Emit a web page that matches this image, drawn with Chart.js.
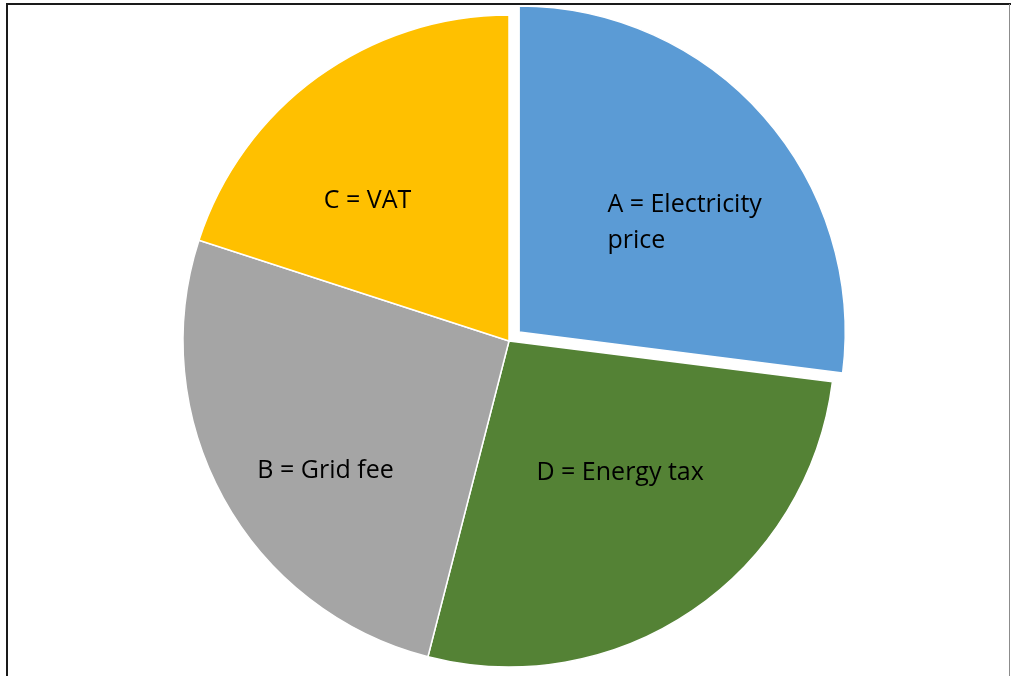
<!DOCTYPE html>
<html>
<head>
<meta charset="utf-8">
<script src="https://cdn.jsdelivr.net/npm/chart.js@4"></script>
<style>
  html, body { margin: 0; padding: 0; background: #ffffff; }
  #wrap { width: 1011px; height: 676px; position: relative; }
</style>
</head>
<body>
<div id="wrap"><canvas id="pie-chart" width="1011" height="676"></canvas></div>
<script>
const ctx = document.getElementById('pie-chart');

// slices, clockwise from 12 o'clock
const categories = [['A = Electricity', 'price'], 'D = Energy tax', 'B = Grid fee', 'C = VAT'];
const shares = [27, 27, 26, 20];

const COLORS = ['#5B9BD5', '#548235', '#A5A5A5', '#FFC000'];
// where each label sits: [fraction along the arc, fraction of radius]
const LABEL_SPOTS = [[0.582, 0.608], [0.44, 0.53], [0.43, 0.69], [0.37, 0.61]];
const FONT = '25px "Open Sans"';

// same shift that ArcElement.draw applies for an exploded slice
function arcShift(arc) {
    const off = (arc.options.offset || 0) / 4;
    const fix = 1 - Math.sin(Math.min(Math.PI, arc.circumference || 0));
    return off * (1 + fix);
}

const sliceLabels = {
    id: 'sliceLabels',
    afterDatasetsDraw(chart) {
        const c = chart.ctx;
        const arcs = chart.getDatasetMeta(0).data;
        c.save();
        c.font = FONT;
        c.fillStyle = '#000000';
        c.textBaseline = 'middle';
        c.textAlign = 'left';
        arcs.forEach((arc, i) => {
            const p = arc.getProps(['x', 'y', 'startAngle', 'endAngle', 'outerRadius'], true);
            const mid = (p.startAngle + p.endAngle) / 2;
            const s = arcShift(arc);
            const cx0 = p.x + Math.cos(mid) * s;
            const cy0 = p.y + Math.sin(mid) * s;
            const [t, rf] = LABEL_SPOTS[i];
            const a = p.startAngle + (p.endAngle - p.startAngle) * t;
            const cx = cx0 + Math.cos(a) * p.outerRadius * rf;
            const cy = cy0 + Math.sin(a) * p.outerRadius * rf;
            const lines = [].concat(chart.data.labels[i]);
            const lh = 36;
            const w = Math.max(...lines.map(l => c.measureText(l).width));
            lines.forEach((l, j) => {
                c.fillText(l, cx - w / 2, cy - (lines.length - 1) * lh / 2 + j * lh);
            });
        });
        c.restore();
    }
};

const frame = {
    id: 'frame',
    afterDraw(chart) {
        const c = chart.ctx;
        c.save();
        c.strokeStyle = '#1a1a1a';
        c.lineWidth = 2;
        c.beginPath();
        c.moveTo(7, 676);
        c.lineTo(7, 4);
        c.lineTo(1011, 4);
        c.stroke();
        c.strokeStyle = '#8c8c8c';
        c.lineWidth = 1;
        c.beginPath();
        c.moveTo(1009.5, 4);
        c.lineTo(1009.5, 676);
        c.stroke();
        c.restore();
    }
};

new Chart(ctx, {
    type: 'pie',
    data: {
        labels: categories,
        datasets: [
            {
                data: shares,
                backgroundColor: COLORS,
                borderColor: '#ffffff',
                borderWidth: 1.5,
                offset: [54, 0, 0, 0]
            }
        ]
    },
    options: {
        responsive: false,
        animation: false,
        radius: 326,
        layout: {
            padding: { left: 7, top: 6 }
        },
        plugins: {
            legend: { display: false },
            tooltip: { enabled: false }
        }
    },
    plugins: [sliceLabels, frame]
});
</script>
</body>
</html>
